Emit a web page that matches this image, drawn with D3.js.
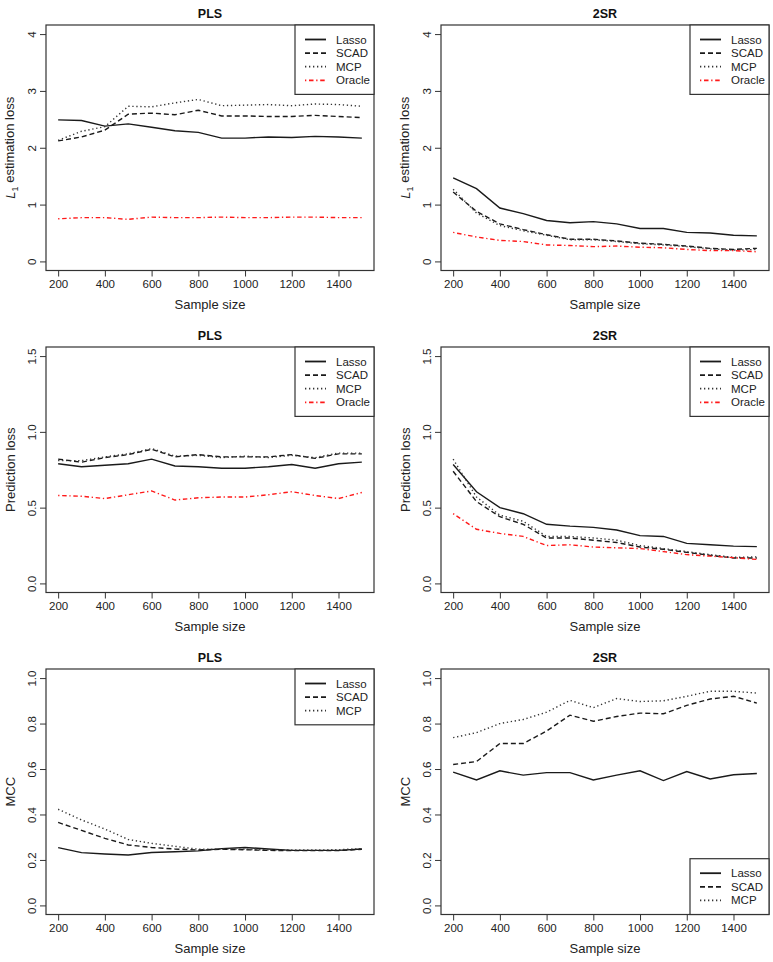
<!DOCTYPE html>
<html>
<head>
<meta charset="utf-8">
<script src="https://cdn.jsdelivr.net/npm/d3@7"></script>
<style>
    body { margin: 0; background: #fff; }
    svg { font-family: "Liberation Sans", Arial, sans-serif; }
</style>
</head>
<body>
<svg id="chart"></svg>
<script>
// sample sizes on the x axis
const sampleSizes = [200, 300, 400, 500, 600, 700, 800, 900, 1000, 1100, 1200, 1300, 1400, 1500];
const xTickLabels = ['200', '400', '600', '800', '1000', '1200', '1400'];

const l1TickLabels = ['0', '1', '2', '3', '4'];
const predTickLabels = ['0.0', '0.5', '1.0', '1.5'];
const mccTickLabels = ['0.0', '0.2', '0.4', '0.6', '0.8', '1.0'];

const methods4 = ['Lasso', 'SCAD', 'MCP', 'Oracle'];
const methods3 = ['Lasso', 'SCAD', 'MCP'];

// L1 estimation loss - PLS
const plsL1Lasso  = [2.49, 2.48, 2.38, 2.42, 2.36, 2.30, 2.27, 2.17, 2.17, 2.19, 2.18, 2.20, 2.19, 2.17];
const plsL1Scad   = [2.12, 2.19, 2.31, 2.59, 2.61, 2.58, 2.66, 2.56, 2.56, 2.55, 2.55, 2.57, 2.55, 2.53];
const plsL1Mcp    = [2.13, 2.29, 2.37, 2.73, 2.72, 2.79, 2.85, 2.74, 2.75, 2.76, 2.74, 2.77, 2.76, 2.73];
const plsL1Oracle = [0.75, 0.77, 0.77, 0.74, 0.78, 0.77, 0.77, 0.78, 0.77, 0.77, 0.78, 0.78, 0.77, 0.77];

// L1 estimation loss - 2SR
const tsrL1Lasso  = [1.47, 1.28, 0.94, 0.84, 0.72, 0.68, 0.70, 0.66, 0.58, 0.58, 0.51, 0.50, 0.46, 0.45];
const tsrL1Scad   = [1.22, 0.88, 0.66, 0.56, 0.47, 0.39, 0.39, 0.36, 0.32, 0.30, 0.27, 0.23, 0.21, 0.23];
const tsrL1Mcp    = [1.27, 0.85, 0.63, 0.54, 0.46, 0.38, 0.38, 0.35, 0.31, 0.29, 0.26, 0.22, 0.20, 0.21];
const tsrL1Oracle = [0.51, 0.43, 0.37, 0.35, 0.29, 0.28, 0.26, 0.27, 0.25, 0.24, 0.21, 0.19, 0.19, 0.17];

// prediction loss - PLS
const plsPredLasso  = [0.79, 0.77, 0.78, 0.79, 0.82, 0.775, 0.77, 0.76, 0.76, 0.77, 0.785, 0.76, 0.79, 0.80];
const plsPredScad   = [0.82, 0.80, 0.83, 0.85, 0.885, 0.835, 0.85, 0.835, 0.835, 0.835, 0.85, 0.825, 0.855, 0.855];
const plsPredMcp    = [0.81, 0.81, 0.835, 0.855, 0.89, 0.84, 0.845, 0.83, 0.84, 0.83, 0.845, 0.83, 0.86, 0.86];
const plsPredOracle = [0.58, 0.575, 0.56, 0.585, 0.61, 0.55, 0.565, 0.57, 0.57, 0.585, 0.605, 0.58, 0.56, 0.60];

// prediction loss - 2SR
const tsrPredLasso  = [0.785, 0.605, 0.50, 0.46, 0.39, 0.378, 0.37, 0.352, 0.315, 0.31, 0.264, 0.255, 0.246, 0.243];
const tsrPredScad   = [0.74, 0.54, 0.44, 0.39, 0.30, 0.30, 0.285, 0.27, 0.24, 0.225, 0.205, 0.185, 0.168, 0.168];
const tsrPredMcp    = [0.82, 0.57, 0.45, 0.41, 0.31, 0.31, 0.30, 0.285, 0.25, 0.23, 0.21, 0.19, 0.172, 0.175];
const tsrPredOracle = [0.46, 0.357, 0.33, 0.31, 0.25, 0.255, 0.24, 0.235, 0.23, 0.21, 0.19, 0.18, 0.17, 0.158];

// MCC - PLS
const plsMccLasso = [0.254, 0.232, 0.226, 0.222, 0.233, 0.236, 0.240, 0.250, 0.255, 0.248, 0.242, 0.242, 0.242, 0.248];
const plsMccScad  = [0.365, 0.330, 0.295, 0.266, 0.255, 0.248, 0.244, 0.247, 0.245, 0.242, 0.241, 0.241, 0.241, 0.247];
const plsMccMcp   = [0.423, 0.376, 0.336, 0.290, 0.273, 0.260, 0.247, 0.248, 0.247, 0.244, 0.244, 0.244, 0.245, 0.250];

// MCC - 2SR
const tsrMccLasso = [0.586, 0.552, 0.592, 0.573, 0.584, 0.584, 0.552, 0.573, 0.592, 0.549, 0.589, 0.556, 0.575, 0.580];
const tsrMccScad  = [0.620, 0.633, 0.712, 0.712, 0.767, 0.837, 0.810, 0.831, 0.846, 0.843, 0.880, 0.908, 0.920, 0.890];
const tsrMccMcp   = [0.738, 0.760, 0.800, 0.818, 0.850, 0.902, 0.870, 0.910, 0.897, 0.900, 0.920, 0.942, 0.942, 0.934];

const styles = {
    Lasso:  { color: '#1a1a1a', dash: null },
    SCAD:   { color: '#1a1a1a', dash: '5,3' },
    MCP:    { color: '#333', dash: '1.3,2.7' },
    Oracle: { color: '#ff1a1a', dash: '1.3,2.7,4.5,2.7' }
};

const panels = [
    { title: 'PLS', ylab: 'L1', ticks: l1TickLabels, names: methods4, legend: 'top',
      values: [plsL1Lasso, plsL1Scad, plsL1Mcp, plsL1Oracle] },
    { title: '2SR', ylab: 'L1', ticks: l1TickLabels, names: methods4, legend: 'top',
      values: [tsrL1Lasso, tsrL1Scad, tsrL1Mcp, tsrL1Oracle] },
    { title: 'PLS', ylab: 'Prediction loss', ticks: predTickLabels, names: methods4, legend: 'top',
      values: [plsPredLasso, plsPredScad, plsPredMcp, plsPredOracle] },
    { title: '2SR', ylab: 'Prediction loss', ticks: predTickLabels, names: methods4, legend: 'top',
      values: [tsrPredLasso, tsrPredScad, tsrPredMcp, tsrPredOracle] },
    { title: 'PLS', ylab: 'MCC', ticks: mccTickLabels, names: methods3, legend: 'top',
      values: [plsMccLasso, plsMccScad, plsMccMcp] },
    { title: '2SR', ylab: 'MCC', ticks: mccTickLabels, names: methods3, legend: 'bottom',
      values: [tsrMccLasso, tsrMccScad, tsrMccMcp] }
];

const width = 773;
const height = 962;
const boxW = 328;
const boxH = 245.5;
const colLeft = [46, 441];
const rowTop = 25;
const rowStep = 322;

let svg = d3.select('#chart')
    .attr('width', width)
    .attr('height', height);

panels.forEach(function (p, i) {
    drawPanel(p, colLeft[i % 2], rowTop + Math.floor(i / 2) * rowStep);
});

function drawPanel(p, left, top) {
    const tickVals = p.ticks.map(Number);
    const yMax = d3.max(tickVals);
    // R style 4% padding on both axes
    const xPad = (1500 - 200) * 0.04;
    const yPad = yMax * 0.04;

    const x = d3.scaleLinear().domain([200 - xPad, 1500 + xPad]).range([0, boxW]);
    const y = d3.scaleLinear().domain([-yPad, yMax + yPad]).range([boxH, 0]);

    let g = svg.append('g').attr('transform', `translate(${left},${top})`);

    // x axis
    let xa = g.append('g')
        .attr('transform', `translate(0,${boxH})`)
        .call(d3.axisBottom(x).tickValues(xTickLabels.map(Number)).tickFormat(d3.format('d')).tickSize(6).tickPadding(3));
    xa.select('.domain').remove();
    xa.selectAll('line').attr('stroke', '#333');
    xa.selectAll('text')
        .attr('font-size', 11.5)
        .attr('fill', '#222')
        .attr('font-family', '"Liberation Sans", Arial, sans-serif');

    // y axis with rotated labels
    let ya = g.append('g')
        .call(d3.axisLeft(y).tickValues(tickVals).tickFormat((d, j) => p.ticks[j]).tickSize(6));
    ya.select('.domain').remove();
    ya.selectAll('line').attr('stroke', '#333');
    ya.selectAll('text')
        .attr('x', null)
        .attr('dy', null)
        .attr('transform', 'translate(-10,0) rotate(-90)')
        .attr('text-anchor', 'middle')
        .attr('font-size', 11.5)
        .attr('fill', '#222')
        .attr('font-family', '"Liberation Sans", Arial, sans-serif');

    // lines
    const line = d3.line()
        .x(d => x(d[0]))
        .y(d => y(d[1]));

    p.values.forEach(function (vals, k) {
        const st = styles[p.names[k]];
        g.append('path')
            .datum(sampleSizes.map((n, j) => [n, vals[j]]))
            .attr('d', line)
            .attr('fill', 'none')
            .attr('stroke', st.color)
            .attr('stroke-width', 1.4)
            .attr('stroke-dasharray', st.dash);
    });

    // box
    g.append('rect')
        .attr('width', boxW)
        .attr('height', boxH)
        .attr('fill', 'none')
        .attr('stroke', '#333')
        .attr('stroke-width', 1.2);

    // title
    g.append('text')
        .attr('x', boxW / 2)
        .attr('y', -7)
        .attr('text-anchor', 'middle')
        .attr('font-size', 12.5)
        .attr('font-weight', 'bold')
        .attr('fill', '#111')
        .text(p.title);

    // x label
    g.append('text')
        .attr('x', boxW / 2)
        .attr('y', boxH + 38.5)
        .attr('text-anchor', 'middle')
        .attr('font-size', 13)
        .attr('fill', '#222')
        .text('Sample size');

    // y label
    let yl = g.append('text')
        .attr('transform', `translate(-31,${boxH / 2}) rotate(-90)`)
        .attr('text-anchor', 'middle')
        .attr('font-size', 13)
        .attr('fill', '#222');
    if (p.ylab === 'L1') {
        yl.append('tspan').attr('font-style', 'italic').text('L');
        yl.append('tspan').attr('font-size', 9).attr('dy', '0.3em').text('1');
        yl.append('tspan').attr('dy', '-0.3em').text(' estimation loss');
    } else {
        yl.text(p.ylab);
    }

    drawLegend(g, p);
}

function drawLegend(g, p) {
    const n = p.names.length;
    const lw = 79;
    const lh = n * 13.6 + 15;
    const ly = p.legend === 'top' ? 0 : boxH - lh;

    let lg = g.append('g').attr('transform', `translate(${boxW - lw},${ly})`);
    lg.append('rect')
        .attr('width', lw)
        .attr('height', lh)
        .attr('fill', '#fff')
        .attr('stroke', '#333')
        .attr('stroke-width', 1.2);

    p.names.forEach(function (name, k) {
        const st = styles[name];
        const cy = 14.5 + k * 13.6;
        lg.append('line')
            .attr('x1', 10).attr('x2', 31)
            .attr('y1', cy).attr('y2', cy)
            .attr('stroke', st.color)
            .attr('stroke-width', 1.8)
            .attr('stroke-dasharray', st.dash);
        lg.append('text')
            .attr('x', 41)
            .attr('y', cy + 4)
            .attr('font-size', 11.5)
            .attr('fill', '#222')
            .text(name);
    });
}
</script>
</body>
</html>
